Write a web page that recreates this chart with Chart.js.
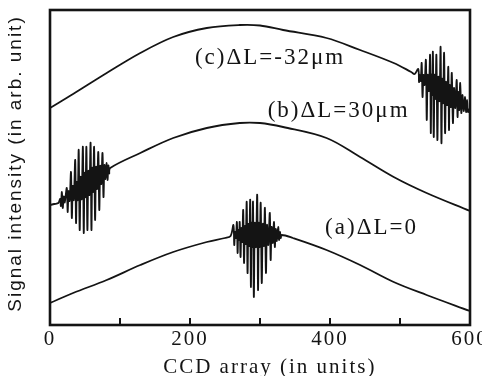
<!DOCTYPE html>
<html>
<head>
<meta charset="utf-8">
<script src="https://cdn.jsdelivr.net/npm/chart.js@4.4.1/dist/chart.umd.min.js"></script>
<style>
  html, body { margin: 0; padding: 0; background: #ffffff; }
  #wrap { width: 482px; height: 376px; position: relative; }
</style>
</head>
<body>
<div id="wrap"><canvas id="c" width="482" height="376"></canvas></div>
<script>
// ---- data (x: CCD array units, y: arbitrary signal units) ----
const xTickLabels = ['0', '200', '400', '600'];
const xTickMarks = [0, 100, 200, 300, 400, 500, 600];
const curveLabels = ['(a)\u0394L=0', '(b)\u0394L=30\u03bcm', '(c)\u0394L=-32\u03bcm'];
const xAxisTitle = 'CCD array (in units)';
const yAxisTitle = 'Signal intensity (in arb. unit)';

// (a) ΔL = 0 : fringe packet near the centre
const xA = [0, 33, 81, 129, 176, 224, 250, 258,
  262, 263.2, 264.4, 265.6, 267, 268, 269, 270, 271, 272.2, 273.4, 274.6,
  276, 277.2, 278.4, 279.6, 281, 282.2, 283.4, 284.6, 286, 287, 288, 289,
  290, 291.2, 292.6, 294.2, 296, 297.2, 298.4, 299.6, 301, 302.5, 304, 305.5,
  307, 308.5, 310, 311.8, 314, 315.2, 316.6, 318.2, 320, 321.2, 322.6, 324,
  326, 327.2, 328.5, 329.7, 331,
  347, 395, 443, 491, 538, 600];
const yA = [22, 32, 45, 60, 73, 83, 87, 89,
  100, 80, 93, 87, 103, 72, 95, 85, 103, 68, 97, 83,
  115, 62, 99, 81, 123, 52, 101, 79, 125, 38, 102, 78,
  123, 28, 102, 78, 130, 35, 102, 78, 122, 42, 101, 79,
  117, 52, 100, 80, 112, 65, 98, 82, 103, 78, 96, 84,
  98, 85, 93, 87, 90,
  87, 75, 60, 43, 30, 14];

// (b) ΔL = 30 µm : fringe packet at the left edge
const xB = [0, 6, 12, 14.5, 15.5,
  17, 18.2, 19.6, 21, 24, 25.2, 26.6, 28, 30, 31.2, 32.6, 34,
  36, 37.2, 38.4, 39.6, 41, 42.4, 43.8, 45.2, 47, 48.2, 49.4, 50.6,
  52, 53.4, 54.8, 56.2, 58, 59.2, 60.4, 61.6, 63, 64.4, 65.8, 67.2,
  69, 70.4, 71.8, 73.2, 75, 76.4, 77.8, 79.2, 81, 82.2, 83.4, 84.6, 86,
  129, 176, 224, 271, 300, 333, 395, 443, 491, 538, 600];
const yB = [120, 121, 122, 126, 119,
  133, 117, 128.5, 122.5, 137, 113, 134, 124, 153, 107, 139, 125,
  165, 102, 143, 125, 175, 95, 148, 126, 178, 92, 152, 128,
  178, 95, 154, 130, 182, 95, 157, 133, 178, 105, 158, 136,
  173, 115, 159, 141, 172, 128, 160, 146, 162, 145, 159.5, 151.5, 157,
  172, 187, 197, 202, 202, 198, 187, 168, 148, 132, 114];

// (c) ΔL = -32 µm : fringe packet at the right edge
const xC = [0, 33, 81, 129, 176, 224, 271, 300, 333, 395, 443, 491, 516, 521,
  526, 527.2, 528.4, 529.6, 531, 532.2, 533.6, 535, 537, 538.2, 539.6, 541.2,
  543, 544, 545, 546, 547, 548.2, 549.4, 550.6, 552, 553.4, 554.8, 556.4,
  558, 559.2, 560.4, 561.6, 563, 564.4, 565.8, 567.4, 569, 570, 571, 572.6,
  574, 575.6, 577.2, 579, 581, 582.2, 583.4, 584.6, 586, 587.6, 589.2, 591,
  593, 594.4, 595.8, 597.2, 600];
const yC = [217, 231, 252, 272, 288, 297, 300, 299.5, 295, 287, 275, 262, 253, 251,
  256, 243, 250, 244, 262, 228, 250, 240, 265, 205, 250, 234,
  270, 192, 250, 230, 273, 188, 250, 226, 270, 185, 248, 224,
  278, 182, 246, 222, 272, 192, 243, 220, 258, 195, 240, 218,
  252, 202, 237, 217, 245, 208, 233, 215, 242, 212, 230, 214,
  228, 213, 225, 213, 217];

const toPts = (xs, ys) => xs.map((x, i) => ({ x: x, y: ys[i] }));

const INK = '#141414';
const SERIF = "'Liberation Serif', 'Times New Roman', serif";
const SANS = "'Liberation Sans', Arial, sans-serif";

const framePlugin = {
  id: 'framePlugin',
  beforeDraw(chart) {
    chart.ctx.letterSpacing = '2px';
  },
  afterDraw(chart) {
    const ctx = chart.ctx;
    const a = chart.chartArea;
    const xs = chart.scales.x;
    const ys = chart.scales.y;
    ctx.save();
    ctx.letterSpacing = '0px';
    // full frame
    ctx.strokeStyle = INK;
    ctx.lineWidth = 2.6;
    ctx.strokeRect(a.left, a.top, a.right - a.left, a.bottom - a.top);
    // inward tick marks on the bottom axis
    ctx.lineWidth = 2;
    ctx.beginPath();
    xTickMarks.forEach(v => {
      const px = xs.getPixelForValue(v);
      ctx.moveTo(px, a.bottom);
      ctx.lineTo(px, a.bottom - 7);
    });
    ctx.stroke();
    ctx.fillStyle = INK;
    // curve labels
    ctx.font = '23px ' + SERIF;
    ctx.letterSpacing = '2px';
    ctx.textBaseline = 'middle';
    ctx.textAlign = 'left';
    const pos = [[393, 97], [311, 214], [207, 267]];
    curveLabels.forEach((t, i) => {
      ctx.fillText(t, xs.getPixelForValue(pos[i][0]), ys.getPixelForValue(pos[i][1]));
    });
    // x axis title
    ctx.font = '21px ' + SERIF;
    ctx.letterSpacing = '2px';
    ctx.textAlign = 'center';
    ctx.fillText(xAxisTitle, xs.getPixelForValue(314), 367);
    // y axis title
    ctx.save();
    ctx.translate(16, (a.top + a.bottom) / 2 - 4);
    ctx.rotate(-Math.PI / 2);
    ctx.font = '19px ' + SANS;
    ctx.letterSpacing = '2px';
    ctx.textAlign = 'center';
    ctx.fillText(yAxisTitle, 0, 0);
    ctx.restore();
    ctx.restore();
  }
};

const ds = (xs, ys) => ({
  data: toPts(xs, ys),
  borderColor: INK,
  borderWidth: 1.8,
  pointRadius: 0,
  fill: false,
  tension: 0.35,
  borderJoinStyle: 'round'
});

new Chart(document.getElementById('c'), {
  type: 'line',
  data: { datasets: [ds(xA, yA), ds(xB, yB), ds(xC, yC)] },
  options: {
    responsive: false,
    animation: false,
    devicePixelRatio: 1,
    layout: { padding: { left: 0, right: 12, top: 10, bottom: 0 } },
    plugins: { legend: { display: false }, tooltip: { enabled: false } },
    scales: {
      x: {
        type: 'linear',
        min: 0,
        max: 600,
        afterBuildTicks(scale) {
          scale.ticks = xTickLabels.map(l => ({ value: Number(l) }));
        },
        afterFit(scale) {
          scale.height = 51;
          scale.paddingLeft = 0;
          scale.paddingRight = 0;
        },
        grid: { display: false, drawTicks: false },
        border: { display: false },
        ticks: {
          color: INK,
          padding: 2,
          maxRotation: 0,
          autoSkip: false,
          font: { family: SERIF, size: 21 },
          callback: (v) => xTickLabels.includes(String(v)) ? String(v) : ''
        },
        title: { display: false }
      },
      y: {
        type: 'linear',
        min: 0,
        max: 315,
        afterFit(scale) {
          scale.width = 50;
          scale.paddingTop = 0;
          scale.paddingBottom = 0;
        },
        grid: { display: false, drawTicks: false },
        border: { display: false },
        ticks: { display: false },
        title: { display: false }
      }
    }
  },
  plugins: [framePlugin]
});
</script>
</body>
</html>
